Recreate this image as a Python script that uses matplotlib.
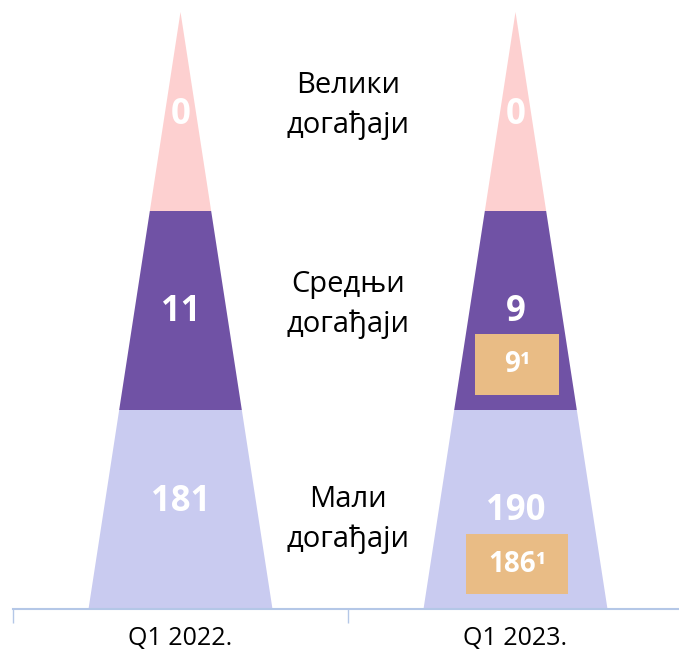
import matplotlib.pyplot as plt
from matplotlib.patches import Polygon, Rectangle

plt.rcParams['font.family'] = ['Open Sans', 'DejaVu Sans']

categories = ['Q1 2022.', 'Q1 2023.']
level_names = ['Мали\nдогађаји', 'Средњи\nдогађаји', 'Велики\nдогађаји']
small = [181, 190]
medium = [11, 9]
large = [0, 0]
small_rev = [None, 186]
medium_rev = [None, 9]

colors = ['#C9CBF0', '#7052A5', '#FDD0D0']
box_color = '#E9BC85'
axis_color = '#B4C7E7'

W, H = 679, 657
fig = plt.figure(figsize=(W / 100, H / 100), dpi=100)
ax = fig.add_axes([13 / W, (H - 609) / H, 670 / W, 609 / H])
ax.set_xlim(-0.5, 1.5)
ax.set_ylim(0, 609 / 199)

half = 0.2746  # half width of the base
top = 3.0


def hw(h):
    return half * (top - h) / top


for i, cat in enumerate(categories):
    vals = [small[i], medium[i], large[i]]
    for lvl in range(3):
        y0, y1 = lvl, lvl + 1
        if lvl == 2:
            pts = [(i - hw(y0), y0), (i + hw(y0), y0), (i, y1)]
        else:
            pts = [(i - hw(y0), y0), (i + hw(y0), y0),
                   (i + hw(y1), y1), (i - hw(y1), y1)]
        ax.add_patch(Polygon(pts, closed=True, facecolor=colors[lvl],
                             edgecolor='none'))

    # values
    ys = [0.54, 1.49, 2.48]
    if small_rev[i] is not None:
        ys[0] = 0.49
    for lvl in range(3):
        ax.text(i, ys[lvl], str(vals[lvl]), ha='center', va='center',
                color='white', fontsize=25, fontweight='bold')

    # revised values in boxes
    revs = [(small_rev[i], 0.226, 0.304), (medium_rev[i], 1.23, 0.25)]
    for v, yc, bw in revs:
        if v is None:
            continue
        ax.add_patch(Rectangle((i + 0.005 - bw / 2, yc - 0.153), bw, 0.306,
                               facecolor=box_color, edgecolor='none'))
        ax.text(i + 0.005, yc, f'{v}\u00b9', ha='center', va='center',
                color='white', fontsize=20, fontweight='bold')

label_y = [0.45, 1.53, 2.53]
for name, yy in zip(level_names, label_y):
    ax.text(0.5, yy, name, ha='center', va='center', fontsize=21,
            color='black', linespacing=1.45)

for s in ['top', 'right', 'left']:
    ax.spines[s].set_visible(False)
ax.spines['bottom'].set_color(axis_color)
ax.spines['bottom'].set_linewidth(1.5)
ax.set_yticks([])
ax.set_xticks([-0.5, 0.5, 1.5])
ax.set_xticklabels([])
ax.set_xticks([0, 1], minor=True)
ax.set_xticklabels(categories, minor=True, fontsize=18)
ax.tick_params(axis='x', which='major', length=10, color=axis_color,
               width=1)
ax.tick_params(axis='x', which='minor', length=0, pad=12)

fig.savefig('out.png', dpi=100)
